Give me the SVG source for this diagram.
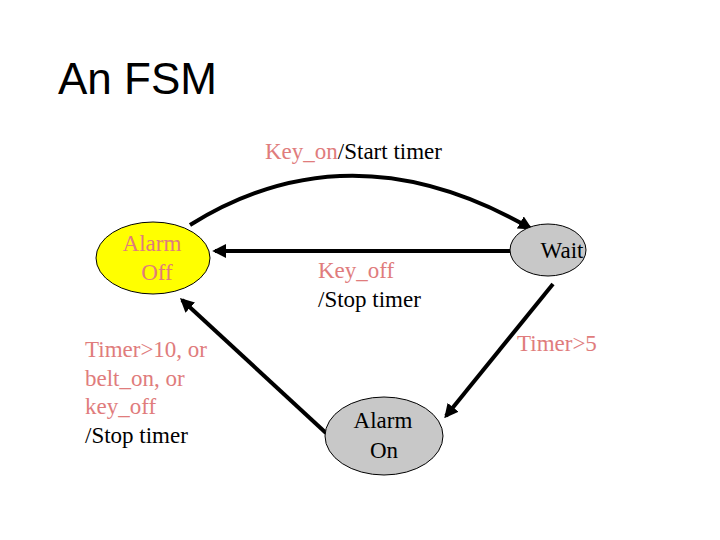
<svg xmlns="http://www.w3.org/2000/svg" width="720" height="540" viewBox="0 0 720 540">
<style>
.t{font-family:"Liberation Serif",serif;font-size:23px}
.p{fill:#e07c7c}.k{fill:#000}
.e{stroke:#000;stroke-width:1}
.c{fill:none;stroke:#000;stroke-width:4;marker-end:url(#a)}
</style>
<defs><marker id="a" viewBox="0 0 10 10" refX="8" refY="5" markerWidth="3.5" markerHeight="3.5" orient="auto"><path d="M0,0L10,5L0,10z"/></marker></defs>
<rect width="720" height="540" fill="#fff"/>
<text x="58" y="94" font-family="Liberation Sans,sans-serif" font-size="44">An FSM</text>
<g id="connectors">
<path class="c" d="M190,225 Q350,125 530,228"/>
<path class="c" d="M510,251 L215,251"/>
<path class="c" d="M326,433 L182,300"/>
<path class="c" d="M553,284 L446,416"/>
</g>
<g id="alarmoff"><ellipse class="e" cx="153" cy="258" rx="57" ry="36" fill="#ffff00"/>
<text class="t p" x="152" y="251" text-anchor="middle">Alarm</text><text class="t p" x="157" y="280" text-anchor="middle">Off</text></g>
<g id="wait"><ellipse class="e" cx="548" cy="250" rx="38" ry="26" fill="#c8c8c8"/>
<text class="t k" x="562" y="258" text-anchor="middle">Wait</text></g>
<g id="alarmon"><ellipse class="e" cx="384" cy="436" rx="59" ry="39" fill="#c8c8c8"/>
<text class="t k" x="383" y="428" text-anchor="middle">Alarm</text><text class="t k" x="384" y="458" text-anchor="middle">On</text></g>
<g id="labels">
<text class="t" x="265" y="159"><tspan class="p">Key_on</tspan><tspan class="k">/Start timer</tspan></text>
<text class="t p" x="318" y="278">Key_off</text>
<text class="t k" x="318" y="307">/Stop timer</text>
<text class="t p" x="517" y="351">Timer&gt;5</text>
<text class="t p" x="85" y="357">Timer&gt;10, or</text>
<text class="t p" x="85" y="386">belt_on, or</text>
<text class="t p" x="85" y="414">key_off</text>
<text class="t k" x="85" y="443">/Stop timer</text>
</g>
</svg>
